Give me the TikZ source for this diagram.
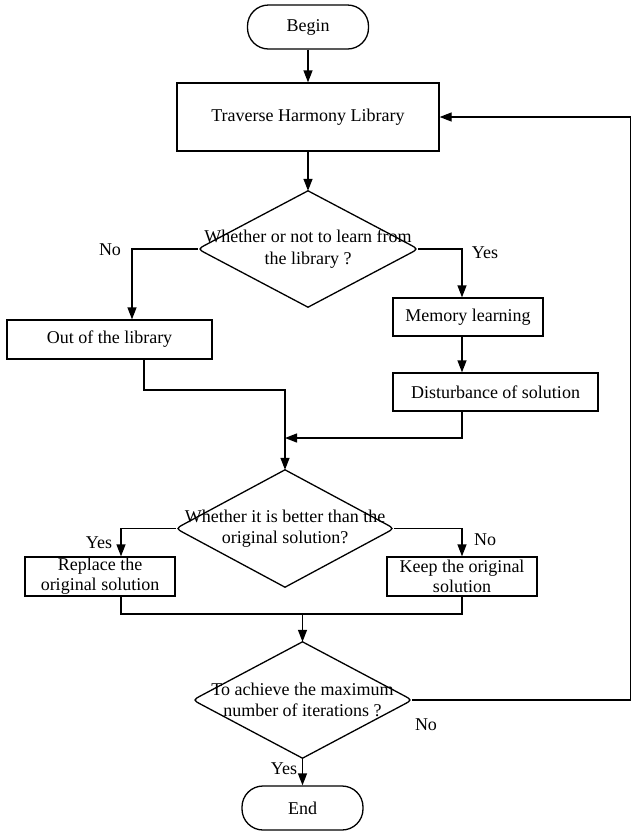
\documentclass[tikz,border=0pt]{standalone}
\usepackage{fontspec}
\setmainfont{Liberation Serif}
\usetikzlibrary{arrows.meta,calc}
\begin{document}
\begin{tikzpicture}[x=1pt,y=-1pt,
  every node/.style={font=\fontsize{18}{21.5}\selectfont},
  box/.style={draw, line width=1.3pt, rectangle, inner sep=0pt, align=center},
  term/.style={draw, line width=1.3pt, rectangle, rounded corners=21pt, inner sep=0pt, minimum width=121pt, minimum height=44pt},
  dia/.style={rectangle, inner sep=0pt, align=center, minimum width=220pt, minimum height=116pt},
  lbl/.style={inner sep=0pt},
  conn/.style={line width=1.3pt},
  arr/.style={conn, -{Triangle[length=12pt,width=9pt]}}]
\useasboundingbox (0,0) rectangle (632,831);
\newcommand{\dshape}[1]{%
  \draw[conn] (#1.north) -- ($(#1.west)!10pt!(#1.north)$) .. controls (#1.west) .. ($(#1.west)!10pt!(#1.south)$)
    -- (#1.south) -- ($(#1.east)!10pt!(#1.south)$) .. controls (#1.east) .. ($(#1.east)!10pt!(#1.north)$) -- cycle;}
% nodes
\node[term] (begin) at (308,27) {Begin};
\node[box, minimum width=262pt, minimum height=68pt] (trav) at (308,117) {Traverse Harmony Library};
\node[dia] (d1) at (308,249) {Whether or not to learn from\\the library ?};
\dshape{d1}
\node[box, minimum width=205pt, minimum height=39pt] (out) at (109.5,339.5) {Out of the library};
\node[box, minimum width=150pt, minimum height=38pt] (mem) at (468,317) {Memory learning};
\node[box, minimum width=205pt, minimum height=38pt] (dist) at (495.5,392) {Disturbance of solution};
\node[dia, minimum width=218pt, minimum height=117pt] (d2) at (285,528.5) {Whether it is better than the\\original solution?};
\dshape{d2}
\node[box, minimum width=150pt, minimum height=39pt, font=\fontsize{18}{20}\selectfont] (repl) at (100,576.5) {Replace the\\original solution};
\node[box, minimum width=150pt, minimum height=39pt, font=\fontsize{18}{20}\selectfont] (keep) at (462,576.5) {Keep the original\\solution};
\node[dia, minimum width=219pt] (d3) at (302.5,700) {To achieve the maximum\\number of iterations ?};
\dshape{d3}
\node[term] (end) at (302.5,808) {End};
% labels
\node[lbl] (lno1) at (110,250) {No};
\node[lbl] (lyes1) at (485,253) {Yes};
\node[lbl] (lyes2) at (99,543) {Yes};
\node[lbl] (lno2) at (485,540) {No};
\node[lbl] (lno3) at (426,725) {No};
\node[lbl] (lyes3) at (284,769) {Yes};
% helper coordinates
\coordinate (cNo) at (132,0);
\coordinate (cYes) at (462,0);
\coordinate (cOut) at (144,0);
\coordinate (cRep) at (121,0);
\coordinate (cR) at (630.5,0);
\coordinate (jOut) at (285,390);
\coordinate (jDist) at (285,438);
\coordinate (cM) at (302.5,614);
% connectors
\draw[arr] (begin) -- (trav);
\draw[arr] (trav) -- (d1.north);
\draw[arr] (d1.west) -| (out.north -| cNo);
\draw[arr] (d1.east) -| (mem.north -| cYes);
\draw[arr] (mem.south -| cYes) -- (dist.north -| cYes);
\draw[arr] (out.south -| cOut) |- (jOut) -- (d2.north);
\draw[arr] (dist.south -| cYes) |- (jDist);
\draw[arr] (d2.west) -| (repl.north -| cRep);
\draw[arr] (d2.east) -| (keep.north);
\draw[conn] (repl.south -| cRep) |- (cM) -| (keep.south);
\draw[arr] (cM) -- (d3.north);
\draw[arr] (d3.south) -- (end);
\draw[arr] (d3.east) -| (cR |- trav.east) -- (trav.east);
\end{tikzpicture}
\end{document}
